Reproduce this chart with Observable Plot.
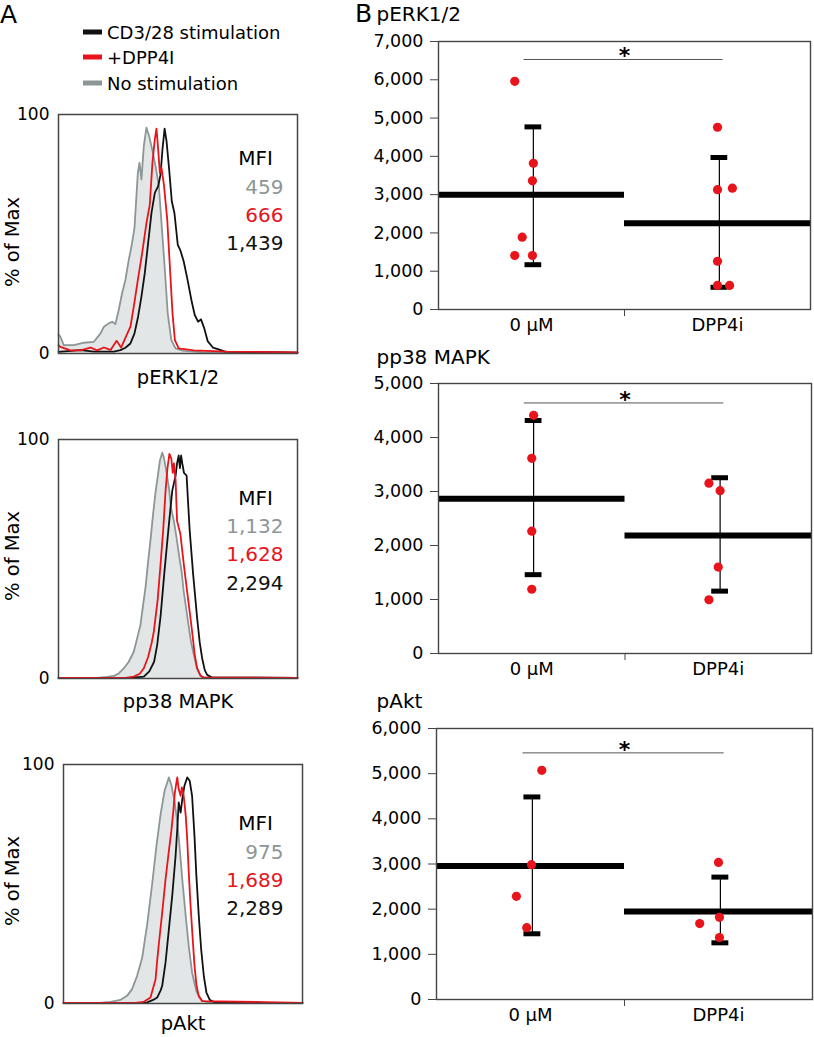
<!DOCTYPE html>
<html><head><meta charset="utf-8">
<script src="https://cdn.jsdelivr.net/npm/d3@7"></script>
<script src="https://cdn.jsdelivr.net/npm/@observablehq/plot@0.6"></script>
<style>
body{margin:0;background:#fff;}
#fig{position:relative;width:814px;height:1037px;font-family:"DejaVu Sans",sans-serif;color:#000;overflow:hidden;background:#fff}
</style></head><body><div id="fig"></div>
<script>
// ---------- Panel A: flow histograms  [channel (0–100 of axis), % of Max] ----------
const perkNoStim = [[0,8],[0.8,7.0],[2.2,3.5],[6.4,3.5],[10.6,4.5],[14.8,4.9],[17.6,8.4],[19.0,11.2],[21.0,12.6],[22.5,13.3],[23.8,12.3],[25.2,18.2],[26.6,25.2],[28.0,30.8],[29.4,39.2],[30.4,44.1],[31.8,52.5],[33.2,75.6],[33.9,79.8],[34.7,72.8],[35.7,86.8],[36.8,94.5],[37.9,91.0],[39.2,85.4],[40.6,78.4],[42.0,70.0],[43.1,54.6],[44.4,36.4],[45.7,16.8],[47.2,5.6],[49.0,2.1],[52.4,1.1],[60,0.6],[100,0.4]];
const perkDpp4i = [[0,3.5],[0.8,2.8],[5,1.3],[9.2,1.3],[13.4,2.5],[16.2,1.3],[19.0,2.5],[21.8,1.5],[24.3,5.3],[26.2,2.5],[28.5,7.7],[30.1,11.2],[31.5,19.6],[33.2,30.8],[35.0,42.0],[36.8,54.6],[38.2,62.3],[39.3,79.8],[40.3,89.6],[41.0,94.1],[41.7,85.4],[42.4,75.6],[43.1,77.7],[44.1,70.7],[45.5,56.0],[46.6,36.4],[47.7,16.8],[48.7,5.6],[50.3,2.1],[56.6,1.3],[70.5,0.8],[100,0.5]];
const perkStim = [[0,0.7],[9.2,1.4],[14.8,0.8],[23.2,0.8],[25.9,1.4],[28.0,2.4],[30.1,4.2],[31.8,8.4],[33.3,15.4],[34.7,23.8],[36.1,33.6],[37.5,46.2],[38.9,58.8],[40.3,67.2],[41.7,70.0],[42.7,74.9],[43.5,85.4],[44.4,94.1],[45.2,88.9],[46.3,77.0],[47.4,63.7],[48.5,58.8],[49.9,45.5],[51.0,43.1],[52.4,38.5],[54.0,30.8],[55.6,22.4],[57.0,16.1],[58.4,13.3],[59.6,14.3],[61.0,10.5],[62.4,5.2],[64.6,2.5],[67.0,1.7],[69.7,0.8],[100,0.4]];

const p38NoStim = [[0,0.3],[16,0.3],[20.4,0.7],[23.2,1.1],[25.2,2.1],[27.3,4.2],[29.4,7.0],[31.5,11.2],[32.9,16.8],[34.3,22.4],[35.4,30.8],[36.4,38],[37.3,47],[38.5,58],[39.6,69],[40.6,78],[41.6,85],[42.4,91.0],[43.4,94.5],[44.1,92.4],[45.0,87.5],[46.2,79.8],[47.1,71.4],[48.3,65.8],[49.4,58.8],[50.4,51.8],[51.5,44.8],[52.4,36.4],[53.6,28],[54.6,21],[55.5,15],[56.6,10],[58.0,4],[59.4,1.2],[60.5,0.4],[100,0.3]];
const p38Dpp4i = [[0,0.3],[28,0.3],[31.5,0.8],[34,2.0],[35.7,4.3],[37.5,9],[39.0,15],[39.9,19.7],[41.5,33],[42.7,47.8],[43.8,62],[44.8,78.6],[45.6,88],[46.4,94.0],[47.2,92],[47.8,86],[48.3,90],[49.0,82.8],[49.6,66],[51.0,60.4],[52.4,48],[53.8,36.6],[55.0,27],[55.9,19.7],[57.0,10],[58.0,4.3],[59.4,1.2],[60.8,0.4],[100,0.3]];
const p38Stim = [[0,0.3],[30,0.3],[35.7,0.8],[38,3],[40,7],[41.3,14.1],[42.7,26],[44.1,42.1],[45.2,54],[46.2,64.6],[47.6,78.6],[49.0,84.9],[49.6,90],[50.3,93.3],[50.8,88],[51.3,93.3],[51.8,90],[52.5,86],[53.6,84.9],[54.2,74],[54.9,61.8],[56.3,44],[58.0,25.3],[59.1,15],[60.1,8.5],[61.2,3.5],[62.2,1.5],[64.3,0.4],[100,0.3]];

const aktNoStim = [[0,0.3],[15,0.3],[19.7,0.7],[23.8,1.5],[26.6,3.2],[28.7,6.0],[30.8,11.6],[32.9,19],[35.0,33],[37.1,50],[38.9,66],[40.6,79],[42.3,89],[44.1,94.6],[45.2,91.1],[46.4,85],[47.6,76],[48.7,64],[49.7,52],[51.0,38],[52.4,24],[53.8,13],[55.6,5],[58.0,1.2],[61.5,0.3],[100,0.3]];
const aktDpp4i = [[0,0.3],[30,0.3],[33.6,0.7],[36.4,2.5],[38.5,10],[39.2,18],[39.9,25],[41.3,38],[42.7,52],[44.1,64],[45.1,72],[45.9,80],[46.6,88.3],[47.6,94.6],[48.2,89.7],[49.0,86.9],[49.5,90.4],[50.1,88.3],[50.6,84],[51.2,78],[51.8,68],[52.4,55],[53.1,42],[54.0,28],[54.8,16],[55.6,8],[56.6,3],[58.0,1],[100,0.3]];
const aktStim = [[0,0.3],[32,0.3],[35.0,0.5],[37.5,1.5],[39.2,2.5],[40.6,5.4],[41.3,7.4],[42.7,17.2],[44.1,31.1],[45.5,45.1],[46.9,61.8],[47.6,72.9],[48.2,84.1],[49.0,79.9],[49.7,85.5],[50.6,91.1],[51.8,94.6],[52.8,93.2],[53.8,86.9],[54.8,70.2],[55.6,53.4],[56.6,36.7],[57.6,22.7],[58.7,11.6],[59.8,4.6],[61.2,1.5],[63.6,0.3],[100,0.3]];

const histLabels = ["pERK1/2", "pp38 MAPK", "pAkt"];
const histYTicks = [0, 100];
const mfiNoStim = ["459", "1,132", "975"];
const mfiDpp4i = ["666", "1,628", "1,689"];
const mfiStim = ["1,439", "2,294", "2,289"];
const legendLabels = ["CD3/28 stimulation", "+DPP4I", "No stimulation"];

// ---------- Panel B: dot plots ----------
const groups = ["0 µM", "DPP4i"];
const panelTitles = ["pERK1/2", "pp38 MAPK", "pAkt"];
const yMax = [7000, 5000, 6000];

const perkCtrl = [5960, 3820, 3360, 1890, 1410, 1410];
const perkCtrlJitter = [-0.09, 0.01, 0.005, -0.05, -0.09, 0.005];
const perkDpp = [4760, 3130, 3170, 1260, 630, 630];
const perkDppJitter = [0, 0, 0.08, 0, 0, 0.065];
const perkMean = [3000, 2250];
const perkLow = [1170, 580];
const perkHigh = [4770, 3970];

const p38Ctrl = [4410, 3615, 2265, 1190];
const p38CtrlJitter = [0.01, 0, 0, 0];
const p38Dpp = [3155, 3015, 1600, 995];
const p38DppJitter = [-0.05, 0.01, 0, -0.05];
const p38Mean = [2865, 2185];
const p38Low = [1460, 1155];
const p38High = [4315, 3255];

const aktCtrl = [5075, 2985, 2285, 1590];
const aktCtrlJitter = [0.06, 0.005, -0.075, -0.02];
const aktDpp = [3035, 1820, 1680, 1370];
const aktDppJitter = [0, 0.005, -0.1, 0.005];
const aktMean = [2955, 1950];
const aktLow = [1455, 1255];
const aktHigh = [4485, 2710];

const sigY = [6530, 4640, 5460];

// ---------- styles ----------
const RED = "#e8141b", BLACK = "#111111", GRAY = "#8d9696", GRAYFILL = "#e3e6e6", FRAME = "#454545";
const FONT = "DejaVu Sans, sans-serif";
const fig = document.getElementById("fig");
function place(el, left, top) {
  el.style.position = "absolute"; el.style.left = left + "px"; el.style.top = top + "px";
  fig.appendChild(el);
}

// ---------- legend + panel letters ----------
(function () {
  const svg = d3.create("svg").attr("width", 340).attr("height", 100)
    .style("font-family", FONT);
  svg.append("text").attr("x", 0).attr("y", 23).attr("font-size", 25).text("A");
  const cols = [BLACK, RED, GRAY];
  const rowY = [32, 57, 83];
  legendLabels.forEach((lab, i) => {
    svg.append("rect").attr("x", 83).attr("y", rowY[i] - 2.5).attr("width", 19).attr("height", 5).attr("fill", cols[i]);
    svg.append("text").attr("x", 107).attr("y", rowY[i] + 6.5).attr("font-size", 18).text(lab);
  });
  place(svg.node(), 0, 0);
  const svgB = d3.create("svg").attr("width", 20).attr("height", 30).style("font-family", FONT);
  svgB.append("text").attr("x", 0).attr("y", 22).attr("font-size", 25).text("B");
  place(svgB.node(), 355, 0);
})();

// ---------- histogram panels ----------
const histSets = [
  {ns: perkNoStim, dp: perkDpp4i, st: perkStim, fl: 58, ft: 114, rows: [44, 73, 101, 129], yl: 8, ld: 24},
  {ns: p38NoStim, dp: p38Dpp4i, st: p38Stim, fl: 58, ft: 439, rows: [59, 87, 115, 144], yl: -3, ld: 23},
  {ns: aktNoStim, dp: aktDpp4i, st: aktStim, fl: 63, ft: 764, rows: [59, 88, 116, 144], yl: -3, ld: 20}
];
histSets.forEach((h, k) => {
  const W = 239, H = 239, mT = 20, mR = 20, mB = 34;
  const fr = h.fl + W;
  const mfi = [
    {t: "MFI", c: "#000", anchor: "middle", dx: 255 - fr},
    {t: mfiNoStim[k], c: GRAY, anchor: "end", dx: 283 - fr},
    {t: mfiDpp4i[k], c: RED, anchor: "end", dx: 283 - fr},
    {t: mfiStim[k], c: BLACK, anchor: "end", dx: 283 - fr}
  ];
  const p = Plot.plot({
    width: h.fl + W + mR, height: mT + H + mB,
    marginLeft: h.fl, marginTop: mT, marginRight: mR, marginBottom: mB,
    x: {domain: [0, 100], axis: null},
    y: {domain: [0, 100]},
    style: {fontFamily: FONT, fontSize: "17px", background: "transparent", overflow: "visible"},
    marks: [
      Plot.areaY(h.ns, {x: d => d[0], y: d => d[1], fill: GRAYFILL}),
      Plot.line(h.ns, {x: d => d[0], y: d => d[1], stroke: GRAY, strokeWidth: 1.8}),
      Plot.line(h.st, {x: d => d[0], y: d => d[1], stroke: BLACK, strokeWidth: 1.8}),
      Plot.line(h.dp, {x: d => d[0], y: d => d[1], stroke: RED, strokeWidth: 1.8}),
      Plot.frame({stroke: FRAME, strokeWidth: 1.5}),
      Plot.axisY({ticks: histYTicks, tickSize: 0, tickPadding: 9, fontSize: 17, label: null}),
      Plot.text([histLabels[k]], {text: d => d, frameAnchor: "bottom", lineAnchor: "middle", textAnchor: "middle", dy: h.ld, fontSize: 19.5}),
      Plot.text(["% of Max"], {text: d => d, frameAnchor: "left", lineAnchor: "middle", textAnchor: "middle", rotate: -90, dx: 12 - h.fl, dy: h.yl, fontSize: 19.5}),
      ...mfi.map((m, i) => Plot.text([m.t], {text: d => d, frameAnchor: "top-right", textAnchor: m.anchor, lineAnchor: "middle",
        dx: m.dx, dy: h.rows[i], fill: m.c, fontSize: 20}))
    ]
  });
  place(p, 0, h.ft - mT);
});

// ---------- dot-plot panels ----------
const dotSets = [
  {c: perkCtrl, cj: perkCtrlJitter, d: perkDpp, dj: perkDppJitter, mean: perkMean, lo: perkLow, hi: perkHigh, fl: 438, fr: 810, ft: 41, fb: 309, td: -27},
  {c: p38Ctrl, cj: p38CtrlJitter, d: p38Dpp, dj: p38DppJitter, mean: p38Mean, lo: p38Low, hi: p38High, fl: 438, fr: 811, ft: 383, fb: 653, td: -26},
  {c: aktCtrl, cj: aktCtrlJitter, d: aktDpp, dj: aktDppJitter, mean: aktMean, lo: aktLow, hi: aktHigh, fl: 436, fr: 812, ft: 728, fb: 999, td: -27}
];
const CAP = 0.045, EBX = 0.01;
dotSets.forEach((s, k) => {
  const left = 374, mT = 41, mR = 2, mB = 32;
  const pts = [
    ...s.c.map((v, n) => ({i: 0, v, j: s.cj[n]})),
    ...s.d.map((v, n) => ({i: 1, v, j: s.dj[n]}))
  ];
  const stats = [0, 1].map(i => ({i, mean: s.mean[i], lo: s.lo[i], hi: s.hi[i]}));
  const caps = stats.flatMap(d => [{i: d.i, v: d.lo}, {i: d.i, v: d.hi}]);
  const p = Plot.plot({
    width: s.fr - left + mR, height: mT + (s.fb - s.ft) + mB,
    marginLeft: s.fl - left, marginTop: mT, marginRight: mR, marginBottom: mB,
    x: {domain: [-0.5, 1.5]},
    y: {domain: [0, yMax[k]]},
    style: {fontFamily: FONT, fontSize: "17.5px", background: "transparent", overflow: "visible"},
    marks: [
      Plot.ruleY(stats, {y: "mean", x1: d => d.i - 0.5, x2: d => d.i + 0.5, stroke: "#000", strokeWidth: 6}),
      Plot.ruleX(stats, {x: d => d.i + EBX, y1: "lo", y2: "hi", stroke: "#000", strokeWidth: 1.2}),
      Plot.ruleY(caps, {y: "v", x1: d => d.i + EBX - CAP, x2: d => d.i + EBX + CAP, stroke: "#000", strokeWidth: 5}),
      Plot.dot(pts, {x: d => d.i + d.j, y: "v", r: 4.6, fill: RED, stroke: "none"}),
      Plot.ruleY([sigY[k]], {y: d => d, x1: () => -0.04, x2: () => 1.03, stroke: "#555", strokeWidth: 1}),
      Plot.text(["*"], {text: d => d, x: () => 0.5, y: () => sigY[k], lineAnchor: "bottom", dy: 4, fontSize: 22, fontWeight: "bold"}),
      Plot.frame({stroke: FRAME, strokeWidth: 1.4}),
      Plot.axisY({ticks: d3.range(0, yMax[k] + 1, 1000), tickFormat: d3.format(","), tickSize: 8, tickPadding: 7, stroke: FRAME, fontSize: 17.5, label: null}),
      Plot.axisX({ticks: [0.5], tickSize: 7, tickFormat: () => "", stroke: FRAME, label: null}),
      Plot.axisX({ticks: [0, 1], tickSize: 0, tickPadding: 9, tickFormat: i => groups[i], fontSize: 18, label: null}),
      Plot.text([panelTitles[k]], {text: d => d, frameAnchor: "top-left", textAnchor: "start", lineAnchor: "middle", dx: 376 - s.fl, dy: s.td, fontSize: 20})
    ]
  });
  place(p, left, s.ft - mT);
});
</script></body></html>
